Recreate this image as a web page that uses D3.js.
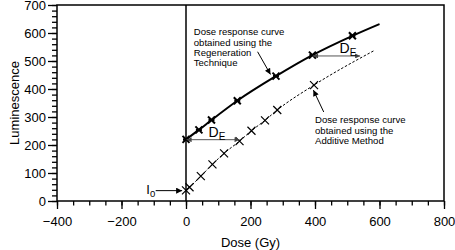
<!DOCTYPE html>
<html>
<head>
<meta charset="utf-8">
<script src="https://cdn.jsdelivr.net/npm/d3@7"></script>
<style>
  body { margin: 0; background: #fff; }
  svg text { font-family: "Liberation Sans", Arial, Helvetica, sans-serif; fill: #000; }
</style>
</head>
<body>
<div id="chart"></div>
<script>
// datos
let regenDose = [0, 40, 79, 159, 279, 392, 516];
let regenLum = [220, 254, 289, 358, 446, 521, 590];
let regenEnd = [600, 632];

let addDose = [0, 11, 46, 82, 118, 166, 203, 245, 283, 397];
let addLum = [38, 49, 89, 131, 170, 214, 251, 288, 325, 414];
let addEnd = [583, 537];

let xTicks = [-400, -200, 0, 200, 400, 600, 800];
let yTicks = [0, 100, 200, 300, 400, 500, 600, 700];

// flechas D_E: [dosis inicio, dosis fin, luminiscencia]
let deArrows = [[2, 166, 219], [394, 540, 518]];

let regenText = ["Dose response curve", "obtained using the", "Regeneration", "Technique"];
let addText = ["Dose response curve", "obtained using the", "Additive Method"];

const W = 455, H = 250;
const margin = { TOP: 5, BOTTOM: 49, LEFT: 57, RIGHT: 11 };
const w = W - margin.LEFT - margin.RIGHT;
const h = H - margin.TOP - margin.BOTTOM;

const svg = d3.select("#chart").append("svg")
  .attr("width", W).attr("height", H);

const defs = svg.append("defs");
defs.append("marker")
  .attr("id", "head")
  .attr("viewBox", "0 0 10 10")
  .attr("refX", 10).attr("refY", 5)
  .attr("markerWidth", 7).attr("markerHeight", 6)
  .attr("markerUnits", "userSpaceOnUse")
  .attr("orient", "auto-start-reverse")
  .append("path").attr("d", "M0,0 L10,5 L0,10 Z").attr("fill", "#000");
defs.append("marker")
  .attr("id", "headGray")
  .attr("viewBox", "0 0 10 10")
  .attr("refX", 10).attr("refY", 5)
  .attr("markerWidth", 7).attr("markerHeight", 5)
  .attr("markerUnits", "userSpaceOnUse")
  .attr("orient", "auto-start-reverse")
  .append("path").attr("d", "M0,0 L10,5 L0,10 Z").attr("fill", "#444");

const g = svg.append("g")
  .attr("transform", `translate(${margin.LEFT}, ${margin.TOP})`);

const x = d3.scaleLinear().domain([-400, 800]).range([0, w]);
const y = d3.scaleLinear().domain([0, 700]).range([h, 0]);

// ejes: menores
g.append("g")
  .attr("transform", `translate(0, ${h})`)
  .call(d3.axisBottom(x).tickValues(d3.range(-400, 801, 50)).tickSize(4.5).tickFormat(""))
  .call(a => a.select(".domain").remove())
  .call(a => a.selectAll("line").attr("stroke-width", 1.3));
g.append("g")
  .call(d3.axisLeft(y).tickValues(d3.range(0, 701, 20)).tickSize(5).tickFormat(""))
  .call(a => a.select(".domain").remove())
  .call(a => a.selectAll("line").attr("stroke-width", 1.3));

// ejes: mayores
const xAxis = g.append("g")
  .attr("transform", `translate(0, ${h})`)
  .call(d3.axisBottom(x).tickValues(xTicks).tickSize(8).tickPadding(8));
const yAxis = g.append("g")
  .call(d3.axisLeft(y).tickValues(yTicks).tickSize(9).tickPadding(2));
[xAxis, yAxis].forEach(a => {
  a.select(".domain").remove();
  a.selectAll("line").attr("stroke-width", 1.3);
  a.selectAll("text").attr("font-size", 13)
    .attr("font-family", "'Liberation Sans', Arial, sans-serif");
});

// marco
g.append("rect")
  .attr("width", w).attr("height", h)
  .attr("fill", "none").attr("stroke", "#000").attr("stroke-width", 1.5);

// linea vertical en dosis 0
g.append("line")
  .attr("x1", x(0)).attr("x2", x(0))
  .attr("y1", 0).attr("y2", h)
  .attr("stroke", "#000").attr("stroke-width", 1.5);

// curvas
const line = d3.line().x(d => x(d[0])).y(d => y(d[1])).curve(d3.curveMonotoneX);
let regenPts = regenDose.map((d, i) => [d, regenLum[i]]);
let addPts = addDose.map((d, i) => [d, addLum[i]]);

g.append("path")
  .datum(regenPts.concat([regenEnd]))
  .attr("d", line)
  .attr("fill", "none").attr("stroke", "#000").attr("stroke-width", 2);

g.append("path")
  .datum(addPts.concat([addEnd]))
  .attr("d", line)
  .attr("fill", "none").attr("stroke", "#000").attr("stroke-width", 1)
  .attr("stroke-dasharray", "2.5,1.8");

// marcadores
g.selectAll(".regen")
  .data(regenPts)
  .enter().append("path")
  .attr("class", "regen")
  .attr("transform", d => `translate(${x(d[0])}, ${y(d[1])})`)
  .attr("d", "M-3.5,-3.5L3.5,3.5M-3.5,3.5L3.5,-3.5M-3,0L3,0")
  .attr("stroke", "#000").attr("stroke-width", 2).attr("fill", "none");

g.selectAll(".add")
  .data(addPts)
  .enter().append("path")
  .attr("class", "add")
  .attr("transform", d => `translate(${x(d[0])}, ${y(d[1])})`)
  .attr("d", "M-4,-4L4,4M-4,4L4,-4")
  .attr("stroke", "#000").attr("stroke-width", 1.2).attr("fill", "none");

// flechas D_E
g.selectAll(".de")
  .data(deArrows)
  .enter().append("line")
  .attr("class", "de")
  .attr("x1", d => x(d[0])).attr("x2", d => x(d[1]))
  .attr("y1", d => y(d[2])).attr("y2", d => y(d[2]))
  .attr("stroke", "#555").attr("stroke-width", 1)
  .attr("marker-start", "url(#headGray)")
  .attr("marker-end", "url(#headGray)");

let deLabels = [[70, 228], [476, 527]];
deLabels.forEach(p => {
  const t = g.append("text")
    .attr("x", x(p[0])).attr("y", y(p[1]))
    .attr("font-size", 14);
  t.append("tspan").text("D");
  t.append("tspan").attr("font-size", 10).attr("dy", 3).text("E");
});

// textos de anotacion
function block(lines, dose, lum) {
  const t = g.append("text")
    .attr("x", x(dose)).attr("y", y(lum))
    .attr("font-size", 9.6);
  lines.forEach((l, i) => {
    t.append("tspan").attr("x", x(dose)).attr("dy", i === 0 ? 0 : 10.4).text(l);
  });
}
block(regenText, 24, 592);
block(addText, 400, 277);

function arrow(d0, l0, d1, l1) {
  g.append("line")
    .attr("x1", x(d0)).attr("y1", y(l0))
    .attr("x2", x(d1)).attr("y2", y(l1))
    .attr("stroke", "#000").attr("stroke-width", 1)
    .attr("marker-end", "url(#head)");
}
arrow(222, 533, 262, 452);
arrow(427, 318, 395, 396);
arrow(-94, 37, -12, 37);

// I0
const i0 = g.append("text")
  .attr("x", x(-123)).attr("y", y(26))
  .attr("font-size", 13);
i0.append("tspan").text("I");
i0.append("tspan").attr("font-size", 9.5).attr("dy", 3).text("0");

// titulos de ejes
svg.append("text")
  .attr("transform", `translate(18.5, ${margin.TOP + h / 2}) rotate(-90)`)
  .attr("text-anchor", "middle")
  .attr("font-size", 13)
  .text("Luminescence");

svg.append("text")
  .attr("x", margin.LEFT + w / 2).attr("y", 247)
  .attr("text-anchor", "middle")
  .attr("font-size", 13)
  .text("Dose (Gy)");
</script>
</body>
</html>
